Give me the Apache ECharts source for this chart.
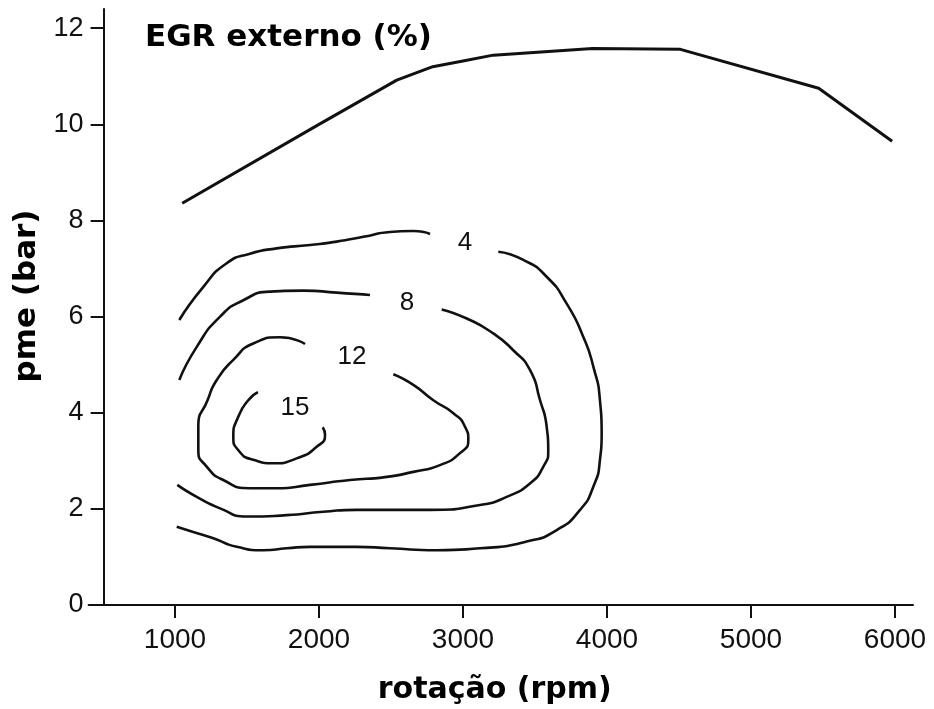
<!DOCTYPE html>
<html>
<head>
<meta charset="utf-8">
<script src="https://cdn.jsdelivr.net/npm/echarts@6/dist/echarts.min.js"></script>
<style>html,body{margin:0;padding:0;background:#fff;}#c{width:934px;height:709px;}</style>
</head>
<body>
<div id="c"></div>
<script>
// Tick values
const xTicks = [1000, 2000, 3000, 4000, 5000, 6000];
const yTicks = [0, 2, 4, 6, 8, 10, 12];

// Full-load curve (rpm, pme bar)
const fullLoad = [[1050,8.36],[2000,10.0],[2540,10.92],[2790,11.2],[3000,11.32],[3210,11.44],[3900,11.58],[4510,11.56],[5470,10.75],[5980,9.65]];

// EGR contour 4 % (two pieces, gap at label)
const egr4a = [[1030,5.93],[1197,6.62],[1359,7.11],[1521,7.31],[1706,7.42],[1938,7.49],[2123,7.56],[2308,7.66],[2493,7.76],[2655,7.78],[2771,7.72]];
const egr4b = [[3245,7.35],[3419,7.18],[3581,6.83],[3720,6.27],[3835,5.58],[3905,4.96],[3951,4.26],[3963,3.57],[3951,3.02],[3905,2.46],[3813,1.98],[3651,1.56],[3442,1.32],[3118,1.18],[2817,1.14],[2493,1.18],[2262,1.21],[1938,1.21],[1776,1.18],[1613,1.14],[1428,1.21],[1266,1.39],[1127,1.52],[1012,1.63]];

// EGR contour 8 %
const egr8a = [[1030,4.68],[1151,5.37],[1313,6.00],[1474,6.34],[1660,6.52],[1891,6.54],[2123,6.50],[2354,6.45]];
const egr8b = [[2852,6.15],[3026,5.96],[3210,5.65],[3349,5.30],[3465,4.89],[3535,4.26],[3581,3.71],[3592,3.22],[3558,2.88],[3465,2.53],[3303,2.25],[3118,2.08],[2771,1.98],[2493,1.98],[2262,1.98],[2030,1.94],[1776,1.87],[1498,1.84],[1313,2.01],[1151,2.25],[1016,2.50]];

// EGR contour 12 %
const egr12 = [[1903,5.43],[1729,5.57],[1544,5.44],[1405,5.10],[1290,4.68],[1226,4.26],[1162,3.71],[1162,3.22],[1220,2.88],[1335,2.60],[1521,2.43],[1706,2.43],[1938,2.50],[2215,2.60],[2458,2.66],[2655,2.77],[2840,2.91],[2979,3.16],[3037,3.43],[3014,3.71],[2933,3.99],[2794,4.26],[2655,4.58],[2516,4.80]];

// EGR contour 15 %
const egr15 = [[1576,4.43],[1509,4.26],[1440,3.92],[1405,3.50],[1440,3.22],[1544,3.02],[1683,2.95],[1845,3.05],[1984,3.29],[2042,3.54],[2026,3.70]];

// Contour labels
const contourLabelText = ['4', '8', '12', '15'];
const contourLabelPos = [[3014,7.53],[2611,6.28],[2229,5.16],[1833,4.10]];

const chart = echarts.init(document.getElementById('c'), null, {renderer: 'canvas'});

function contour(data, w, sm) {
  return {
    type: 'line', data: data, smooth: sm === undefined ? 0.6 : sm, symbol: 'none',
    lineStyle: {color: '#111', width: w || 2.6}, animation: false, silent: true
  };
}

const option = {
  backgroundColor: '#fff',
  animation: false,
  title: {
    text: 'EGR externo (%)',
    left: 145, top: 22, padding: 0,
    textStyle: {fontFamily: 'DejaVu Sans', fontWeight: 'bold', fontSize: 31, color: '#000'}
  },
  grid: {left: 88.6, right: 21, top: 9, bottom: 104, containLabel: false, outerBoundsMode: 'none'},
  xAxis: {
    type: 'value', min: 400, max: 6125,
    axisLine: {onZero: false, lineStyle: {color: '#111', width: 2}},
    axisTick: {customValues: xTicks, length: 13, lineStyle: {color: '#111', width: 2}},
    axisLabel: {customValues: xTicks, margin: 21, fontSize: 28, fontFamily: 'Liberation Sans', color: '#111', formatter: v => String(v)},
    splitLine: {show: false},
    name: 'rotação (rpm)', nameLocation: 'middle', nameGap: 70,
    nameTextStyle: {fontFamily: 'DejaVu Sans', fontWeight: 'bold', fontSize: 30, color: '#000', padding: [0, 12, 0, 0]}
  },
  yAxis: {
    type: 'value', min: 0, max: 12.4, offset: -15,
    axisLine: {show: true, onZero: false, lineStyle: {color: '#111', width: 2}},
    axisTick: {show: true, customValues: yTicks, length: 13, lineStyle: {color: '#111', width: 2}},
    axisLabel: {customValues: yTicks, margin: 20, fontSize: 27, fontFamily: 'Liberation Sans', color: '#111', formatter: v => String(v)},
    splitLine: {show: false},
    name: 'pme (bar)', nameLocation: 'middle', nameGap: 60,
    nameTextStyle: {fontFamily: 'DejaVu Sans', fontWeight: 'bold', fontSize: 31, color: '#000', padding: [0, 0, 0, 22]}
  },
  series: [
    contour(fullLoad, 3, false),
    contour(egr4a), contour(egr4b),
    contour(egr8a), contour(egr8b),
    contour(egr12), contour(egr15),
    {
      type: 'scatter', symbol: 'circle', symbolSize: 2, itemStyle: {color: 'rgba(0,0,0,0)', opacity: 1}, silent: true,
      data: contourLabelPos.map((p, i) => ({value: p, name: contourLabelText[i]})),
      label: {show: true, position: 'inside', formatter: p => p.name, fontSize: 26, fontFamily: 'Liberation Sans', color: '#111'},
      z: 5
    }
  ]
};
chart.setOption(option);
</script>
</body>
</html>
